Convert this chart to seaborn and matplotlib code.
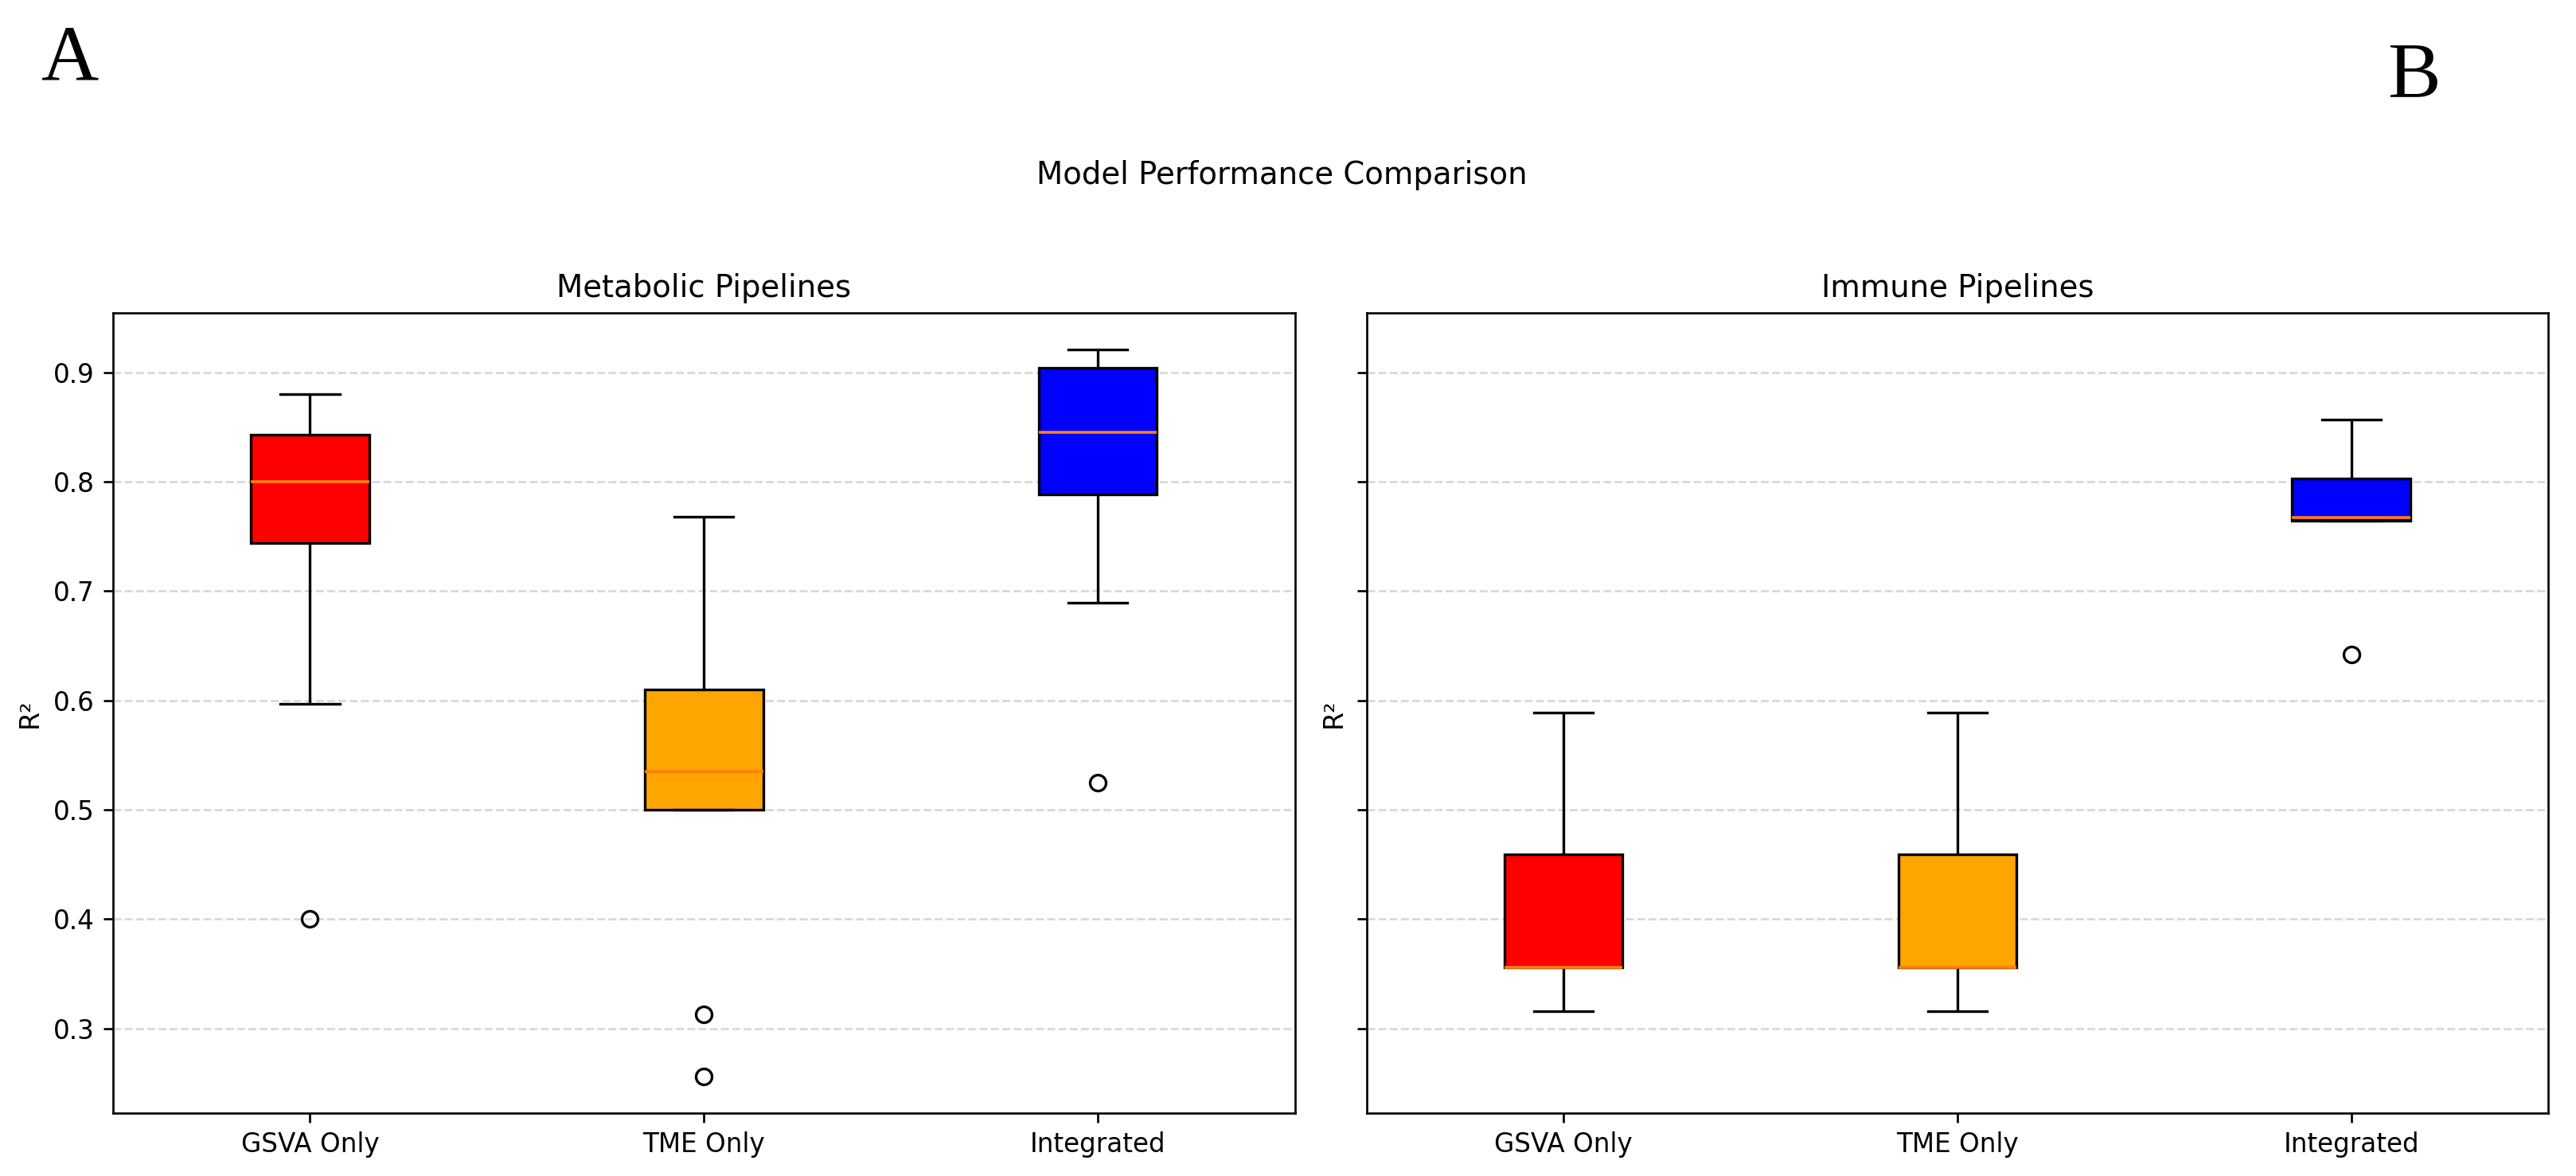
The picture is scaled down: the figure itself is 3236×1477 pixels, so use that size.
import numpy as np
import pandas as pd
import matplotlib
matplotlib.use("Agg")
import matplotlib.pyplot as plt
import seaborn as sns

# ---- data ----
categories = ["GSVA Only", "TME Only", "Integrated"]
box_colors = ["red", "orange", "blue"]

metabolic_gsva = [0.400, 0.597, 0.744, 0.770, 0.800, 0.825, 0.843, 0.860, 0.880]
metabolic_tme = [0.256, 0.313, 0.500, 0.510, 0.535, 0.580, 0.610, 0.700, 0.768]
metabolic_integrated = [0.525, 0.689, 0.788, 0.820, 0.845, 0.880, 0.904, 0.912, 0.921]

immune_gsva = [0.316, 0.340, 0.356, 0.356, 0.356, 0.400, 0.459, 0.520, 0.589]
immune_tme = [0.316, 0.340, 0.356, 0.356, 0.356, 0.400, 0.459, 0.520, 0.589]
immune_integrated = [0.642, 0.764, 0.764, 0.765, 0.767, 0.780, 0.803, 0.830, 0.857]

panel_titles = ["Metabolic Pipelines", "Immune Pipelines"]
suptitle = "Model Performance Comparison"
ylabel = "R\u00b2"


def make_df(groups):
    labels = []
    values = []
    for cat, vals in zip(categories, groups):
        labels += [cat] * len(vals)
        values += list(vals)
    return pd.DataFrame({"Pipeline": labels, "R2": values})


panels = [
    make_df([metabolic_gsva, metabolic_tme, metabolic_integrated]),
    make_df([immune_gsva, immune_tme, immune_integrated]),
]

W, H = 3236, 1477
DPI = 240
fig = plt.figure(figsize=(W / DPI, H / DPI), dpi=DPI)

top_px, bot_px = 393, 1398
ax1 = fig.add_axes([142 / W, 1 - bot_px / H, (1626.7 - 142) / W, (bot_px - top_px) / H])
ax2 = fig.add_axes([1716.7 / W, 1 - bot_px / H, (3201 - 1716.7) / W, (bot_px - top_px) / H],
                   sharey=ax1)

palette = dict(zip(categories, box_colors))
for ax, df, title in zip([ax1, ax2], panels, panel_titles):
    sns.boxplot(
        data=df, x="Pipeline", y="R2", hue="Pipeline",
        order=categories, hue_order=categories, palette=palette,
        saturation=1, width=0.3, linecolor="black", linewidth=1,
        legend=False, ax=ax,
        medianprops={"color": "#ff7f0e", "linewidth": 1.1},
        flierprops={"marker": "o", "markerfacecolor": "none",
                    "markeredgecolor": "black", "markersize": 6,
                    "markeredgewidth": 1},
    )
    ax.grid(axis="y", linestyle="--", color="#b0b0b0", alpha=0.5)
    ax.set_axisbelow(True)
    ax.set_title(title, fontsize=11.6)
    ax.set_xlabel("")
    ax.set_ylabel(ylabel, fontsize=10)
    ax.tick_params(labelsize=9.8)

ax2.tick_params(labelleft=False)

fig.suptitle(suptitle, x=0.4975, y=1 - 201 / H, fontsize=11.6, va="top")

fig.text(52 / W, 1 - 101 / H, "A", family=["Liberation Serif", "DejaVu Serif"],
         fontsize=30, ha="left", va="baseline")
fig.text(2999 / W, 1 - 121 / H, "B", family=["Liberation Serif", "DejaVu Serif"],
         fontsize=30, ha="left", va="baseline")

fig.savefig("out.png", dpi=DPI)
